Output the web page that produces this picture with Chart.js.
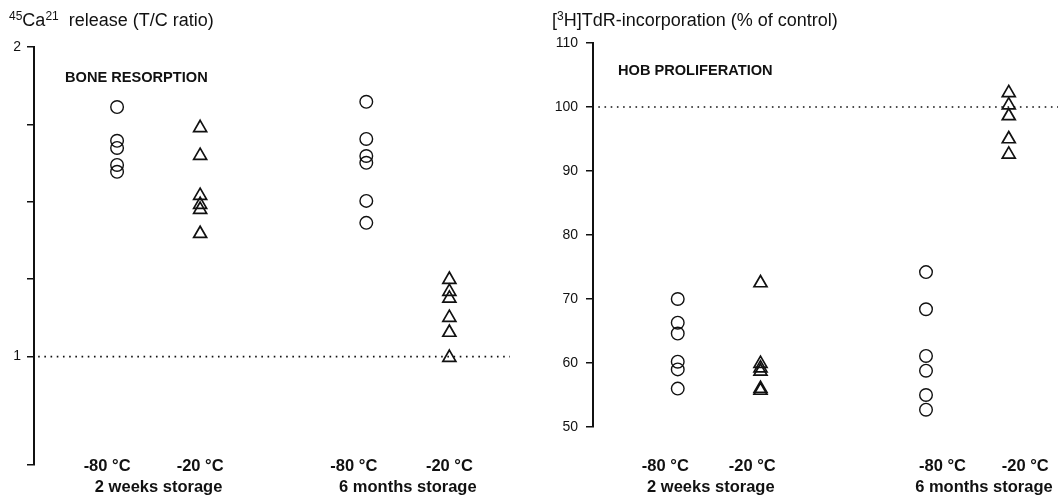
<!DOCTYPE html>
<html>
<head>
<meta charset="utf-8">
<script src="https://cdn.jsdelivr.net/npm/chart.js@4.4.0/dist/chart.umd.min.js"></script>
<style>
    body { margin: 0; background: #fff; width: 1058px; height: 497px; overflow: hidden; position: relative;
           font-family: "Liberation Sans", Arial, sans-serif; color: #111; }
    .box { position: absolute; top: 0; height: 497px; }
    #leftBox { left: 0; width: 520px; }
    #rightBox { left: 520px; width: 538px; }
    .ttl { position: absolute; top: 11px; font-size: 18px; line-height: 18px; white-space: nowrap; }
    .ttl sup { font-size: 12px; line-height: 0; vertical-align: 6px; }
    .panel { position: absolute; font-size: 14.6px; line-height: 15px; font-weight: bold; white-space: nowrap; }
</style>
</head>
<body>
<div class="box" id="leftBox">
    <canvas id="boneChart" width="520" height="497"></canvas>
    <div class="ttl" style="left:9px"><sup>45</sup>Ca<sup>21</sup>&nbsp; release (T/C ratio)</div>
    <div class="panel" style="left:65px;top:70px">BONE RESORPTION</div>
</div>
<div class="box" id="rightBox">
    <canvas id="hobChart" width="538" height="497"></canvas>
    <div class="ttl" style="left:32px">[<sup>3</sup>H]TdR-incorporation (% of control)</div>
    <div class="panel" style="left:98px;top:63px">HOB PROLIFERATION</div>
</div>
<script>
// x positions of the four groups and their labels
const groupPos = [1, 2, 4, 5];
const tempLabels = ['-80 °C', '-20 °C', '-80 °C', '-20 °C'];
const storageLabels = ['2 weeks storage', '6 months storage'];
// where the labels sit on each panel's x axis
const boneTempPos = [0.88, 2.0, 3.85, 5.0];
const boneStoragePos = [1.5, 4.5];
const hobTempPos = [0.85, 1.9, 4.2, 5.2];
const hobStoragePos = [1.4, 4.7];

// bone resorption, T/C ratio
const boneTicks = [0.65, 1, 1.25, 1.5, 1.75, 2];
const boneTickLabels = ['', '1', '', '', '', '2'];
const boneM80w = [1.806, 1.697, 1.674, 1.619, 1.597];
const boneM20w = [1.739, 1.649, 1.520, 1.491, 1.475, 1.397];
const boneM80m = [1.823, 1.703, 1.648, 1.626, 1.503, 1.432];
const boneM20m = [1.249, 1.210, 1.188, 1.126, 1.078, 0.997];
const boneControl = 1;

// HOB proliferation, % of control
const hobTicks = [50, 60, 70, 80, 90, 100, 110];
const hobM80w = [70.0, 66.3, 64.6, 60.2, 59.0, 56.0];
const hobM20w = [72.5, 59.9, 59.2, 58.7, 56.0, 55.7];
const hobM80m = [74.2, 68.4, 61.1, 58.8, 55.0, 52.7];
const hobM20m = [102.2, 100.3, 98.6, 95.0, 92.6];
const hobControl = 100;

const FONT = '"Liberation Sans", Arial, sans-serif';

function pts(x, values) {
    return values.map(v => ({ x: x, y: v }));
}

function markers(x, values, style) {
    const tri = style === 'triangle';
    return {
        type: 'scatter',
        data: pts(x, values),
        pointStyle: style,
        pointRadius: tri ? 7.5 : 6.3,
        pointBorderWidth: tri ? 1.7 : 1.4,
        pointBorderColor: '#111',
        pointBackgroundColor: 'rgba(0,0,0,0)'
    };
}

function controlLine(x0, x1, y) {
    return {
        type: 'line',
        data: [{ x: x0, y: y }, { x: x1, y: y }],
        borderColor: '#111',
        borderWidth: 1.6,
        borderDash: [1.6, 4.6],
        pointRadius: 0
    };
}

// draws the group labels under the plot through the x scale
const xLabels = {
    id: 'xLabels',
    afterDraw(chart, args, opts) {
        const ctx = chart.ctx;
        const x = chart.scales.x;
        ctx.save();
        ctx.fillStyle = '#111';
        ctx.textAlign = 'center';
        ctx.textBaseline = 'middle';
        ctx.font = 'bold 16.5px ' + FONT;
        opts.tempPos.forEach((p, i) => ctx.fillText(tempLabels[i], x.getPixelForValue(p), 466));
        opts.storagePos.forEach((p, i) => ctx.fillText(storageLabels[i], x.getPixelForValue(p), 487));
        ctx.restore();
    }
};

function makeChart(id, cfg) {
    return new Chart(document.getElementById(id), {
        type: 'scatter',
        data: { datasets: cfg.datasets },
        plugins: [xLabels],
        options: {
            responsive: false,
            animation: false,
            devicePixelRatio: 1,
            layout: { padding: cfg.padding, autoPadding: false },
            plugins: {
                legend: { display: false },
                tooltip: { enabled: false },
                xLabels: { tempPos: cfg.tempPos, storagePos: cfg.storagePos }
            },
            scales: {
                x: { type: 'linear', display: false, min: cfg.xMin, max: cfg.xMax },
                y: {
                    type: 'linear',
                    min: cfg.ticks[0],
                    max: cfg.ticks[cfg.ticks.length - 1],
                    afterFit: scale => { scale.width = cfg.axisWidth; },
                    afterBuildTicks: scale => { scale.ticks = cfg.ticks.map(v => ({ value: v })); },
                    border: { display: true, color: '#111', width: 2 },
                    grid: { drawOnChartArea: false, color: '#111', lineWidth: 1.5, tickLength: 7 },
                    ticks: {
                        color: '#111',
                        padding: cfg.tickPad,
                        font: { family: FONT, size: 14 },
                        callback: cfg.tickLabel
                    }
                }
            }
        }
    });
}

makeChart('boneChart', {
    padding: { top: 47, bottom: 32, left: 0, right: 10 },
    axisWidth: 34,
    tickPad: 6,
    xMin: 0,
    xMax: 5.73,
    ticks: boneTicks,
    tickLabel: (v, i) => boneTickLabels[i],
    tempPos: boneTempPos,
    storagePos: boneStoragePos,
    datasets: [
        controlLine(0.05, 5.73, boneControl),
        markers(groupPos[0], boneM80w, 'circle'),
        markers(groupPos[1], boneM20w, 'triangle'),
        markers(groupPos[2], boneM80m, 'circle'),
        markers(groupPos[3], boneM20m, 'triangle')
    ]
});

makeChart('hobChart', {
    padding: { top: 43, bottom: 70, left: 0, right: 0 },
    axisWidth: 73,
    tickPad: 8,
    xMin: -0.024,
    xMax: 5.595,
    ticks: hobTicks,
    tickLabel: v => v,
    tempPos: hobTempPos,
    storagePos: hobStoragePos,
    datasets: [
        controlLine(0.04, 5.595, hobControl),
        markers(groupPos[0], hobM80w, 'circle'),
        markers(groupPos[1], hobM20w, 'triangle'),
        markers(groupPos[2], hobM80m, 'circle'),
        markers(groupPos[3], hobM20m, 'triangle')
    ]
});
</script>
</body>
</html>
